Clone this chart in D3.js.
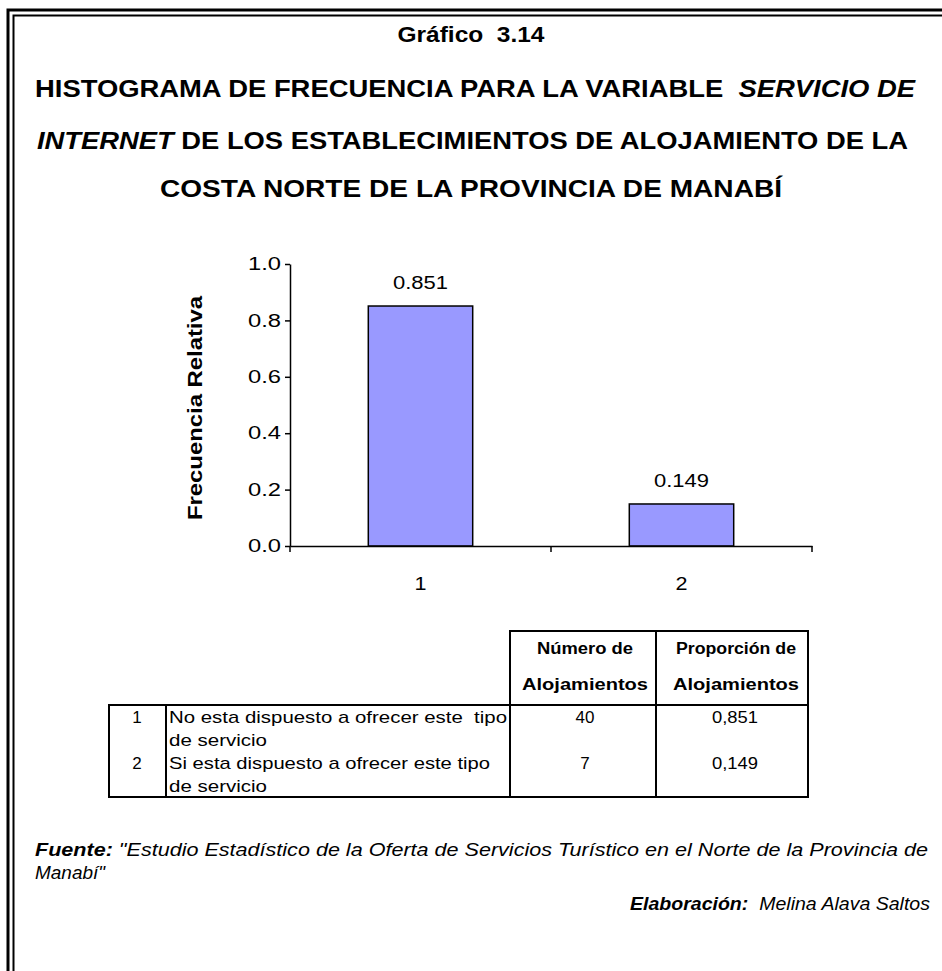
<!DOCTYPE html>
<html><head><meta charset="utf-8">
<script src="https://cdn.jsdelivr.net/npm/d3@7"></script>
<style>body{margin:0;background:#fff}svg{display:block;font-family:"Liberation Sans",Arial,sans-serif}text{white-space:pre}</style>
</head><body><svg id="c" width="942" height="971"></svg>
<script>
const categories = ["1", "2"];
const values = [0.851, 0.149];
const valueLabels = ["0.851", "0.149"];
const yTicks = [0, 0.2, 0.4, 0.6, 0.8, 1.0];
const tableNums = ["1", "2"];
const tableDesc = [["No esta dispuesto a ofrecer este  tipo", "de servicio"], ["Si esta dispuesto a ofrecer este tipo", "de servicio"]];
const tableCounts = ["40", "7"];
const tableProps = ["0,851", "0,149"];

const svg = d3.select("#c");
function fit(sel, len){ return sel.attr("textLength", len).attr("lengthAdjust","spacingAndGlyphs"); }

// double border
svg.append("path").attr("d","M8,971V10H942").attr("fill","none").attr("stroke","#000").attr("stroke-width",3);
svg.append("path").attr("d","M13.5,971V15.5H942").attr("fill","none").attr("stroke","#000").attr("stroke-width",2);

// titles
fit(svg.append("text").attr("x",471).attr("y",42).attr("text-anchor","middle").attr("font-weight","bold").attr("font-size",22).text("Gráfico  3.14"),147);
const t2 = fit(svg.append("text").attr("x",35).attr("y",97).attr("font-weight","bold").attr("font-size",24),880);
t2.append("tspan").text("HISTOGRAMA DE FRECUENCIA PARA LA VARIABLE  ");
t2.append("tspan").attr("font-style","italic").text("SERVICIO DE");
const t3 = fit(svg.append("text").attr("x",37).attr("y",149).attr("font-weight","bold").attr("font-size",24),871);
t3.append("tspan").attr("font-style","italic").text("INTERNET");
t3.append("tspan").text(" DE LOS ESTABLECIMIENTOS DE ALOJAMIENTO DE LA");
fit(svg.append("text").attr("x",160).attr("y",197).attr("font-weight","bold").attr("font-size",24).text("COSTA NORTE DE LA PROVINCIA DE MANABÍ"),622);

// chart
const x = d3.scaleBand().domain(categories).range([290,812]).paddingInner(0.6).paddingOuter(0.3);
const y = d3.scaleLinear().domain([0,1]).range([546,264]);

svg.append("g").selectAll("rect").data(values).join("rect")
  .attr("x",(d,i)=>x(categories[i])).attr("y",d=>y(d))
  .attr("width",x.bandwidth()).attr("height",d=>y(0)-y(d))
  .attr("fill","#9999ff").attr("stroke","#000").attr("stroke-width",1.5);

svg.append("g").selectAll("text").data(values).join("text")
  .attr("x",(d,i)=>x(categories[i])+x.bandwidth()/2).attr("y",d=>y(d)-17)
  .attr("text-anchor","middle").attr("font-size",18)
  .attr("textLength",55).attr("lengthAdjust","spacingAndGlyphs")
  .text((d,i)=>valueLabels[i]);

const ya = svg.append("g").attr("transform","translate(290,0)")
  .call(d3.axisLeft(y).tickValues(yTicks).tickFormat(d3.format(".1f")).tickSize(5).tickSizeOuter(0));
ya.select(".domain").attr("stroke-width",1.5);
ya.selectAll(".tick line").attr("stroke-width",1.5);
ya.selectAll("text").attr("font-size",18).attr("font-family","Liberation Sans, Arial").attr("x",-9)
  .attr("textLength",33).attr("lengthAdjust","spacingAndGlyphs");

const xa = svg.append("g").attr("transform","translate(0,546)")
  .call(d3.axisBottom(x).tickSize(0).tickSizeOuter(0));
xa.select(".domain").attr("stroke-width",1.5);
xa.selectAll("text").attr("font-size",18).attr("font-family","Liberation Sans, Arial").attr("y",44).attr("dy",0)
  .attr("textLength",12).attr("lengthAdjust","spacingAndGlyphs");
// boundary ticks between categories
const bounds = [290, x(categories[1]) - x.step()*x.paddingInner()/2, 812];
svg.append("g").selectAll("line").data(bounds).join("line")
  .attr("x1",d=>d).attr("x2",d=>d).attr("y1",546).attr("y2",552).attr("stroke","#000").attr("stroke-width",1.5);

fit(svg.append("text").attr("transform","translate(202,408) rotate(-90)").attr("text-anchor","middle")
  .attr("font-weight","bold").attr("font-size",20).text("Frecuencia Relativa"),224);

// table
const tb = svg.append("g").attr("fill","none").attr("stroke","#000").attr("stroke-width",2);
tb.append("rect").attr("x",510).attr("y",631).attr("width",298).attr("height",74);
tb.append("line").attr("x1",656).attr("x2",656).attr("y1",631).attr("y2",705);
tb.append("rect").attr("x",109).attr("y",705).attr("width",699).attr("height",92);
tb.append("line").attr("x1",166).attr("x2",166).attr("y1",705).attr("y2",797);
tb.append("line").attr("x1",510).attr("x2",510).attr("y1",705).attr("y2",797);
tb.append("line").attr("x1",656).attr("x2",656).attr("y1",705).attr("y2",797);

const hdr = [["Número de","Alojamientos"],["Proporción de","Alojamientos"]];
const hdrLen = [[96,126],[120,126]];
const hx = [585, 736];
hdr.forEach((h,i)=>{
  fit(svg.append("text").attr("x",hx[i]).attr("y",654).attr("text-anchor","middle").attr("font-weight","bold").attr("font-size",16).text(h[0]),hdrLen[i][0]);
  fit(svg.append("text").attr("x",hx[i]).attr("y",690).attr("text-anchor","middle").attr("font-weight","bold").attr("font-size",16).text(h[1]),hdrLen[i][1]);
});
const descLen = [[338,98],[321,98]];
tableNums.forEach((n,i)=>{
  const by = 723 + i*46;
  svg.append("text").attr("x",137).attr("y",by).attr("text-anchor","middle").attr("font-size",17).text(n);
  fit(svg.append("text").attr("x",169).attr("y",by).attr("font-size",17).text(tableDesc[i][0]),descLen[i][0]);
  fit(svg.append("text").attr("x",169).attr("y",by+23).attr("font-size",17).text(tableDesc[i][1]),descLen[i][1]);
  svg.append("text").attr("x",585).attr("y",by).attr("text-anchor","middle").attr("font-size",17).text(tableCounts[i]);
  fit(svg.append("text").attr("x",735).attr("y",by).attr("text-anchor","middle").attr("font-size",17).text(tableProps[i]),46);
});

// footnotes
const f1 = fit(svg.append("text").attr("x",35).attr("y",856).attr("font-size",18).attr("font-style","italic"),893);
f1.append("tspan").attr("font-weight","bold").text("Fuente:");
f1.append("tspan").text(" \"Estudio Estadístico de la Oferta de Servicios Turístico en el Norte de la Provincia de");
fit(svg.append("text").attr("x",35).attr("y",879).attr("font-size",18).attr("font-style","italic").text("Manabí\""),70);
const f2 = fit(svg.append("text").attr("x",930).attr("y",910).attr("text-anchor","end").attr("font-size",18).attr("font-style","italic"),300);
f2.append("tspan").attr("font-weight","bold").text("Elaboración:");
f2.append("tspan").text("  Melina Alava Saltos");
</script></body></html>
